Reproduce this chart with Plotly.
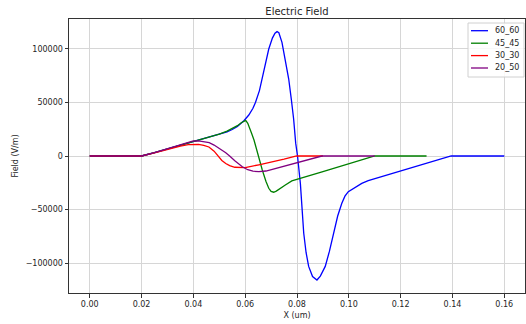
import plotly.graph_objects as go

# ---- data ----
x_60_60 = [0.0, 0.02, 0.025, 0.03, 0.035, 0.04, 0.045, 0.05, 0.053, 0.055, 0.057, 0.0595,
           0.0614, 0.063, 0.064, 0.0655, 0.0666, 0.068, 0.0691, 0.0705, 0.0715, 0.0723,
           0.073, 0.0742, 0.0755, 0.0768, 0.0778, 0.0787, 0.0795, 0.0802, 0.0813, 0.082,
           0.0826, 0.0835, 0.0845, 0.086, 0.0877, 0.089, 0.0909, 0.0925, 0.0941, 0.0957,
           0.0973, 0.0985, 0.0998, 0.1024, 0.105, 0.1075, 0.1152, 0.125, 0.1395, 0.14, 0.16]
y_60_60 = [0, 0, 3200, 6600, 10000, 13400, 16500, 19800, 22500, 24700, 27500, 32900,
           38200, 44500, 50100, 61000, 73400, 88000, 99800, 110000, 114500, 116000,
           115000, 106000, 90000, 71800, 53000, 34500, 12000, 0, -25500, -47000,
           -72100, -90000, -103000, -112500, -115700, -112000, -103000, -89000, -72100, -56000,
           -44100, -37500, -33300, -29200, -25500, -23000, -17300, -10300, 0, 0, 0]

x_45_45 = [0.0, 0.02, 0.025, 0.03, 0.035, 0.04, 0.045, 0.05, 0.053, 0.055, 0.057, 0.0585,
           0.0595, 0.0602, 0.061, 0.0614, 0.0625, 0.0634, 0.064, 0.0653, 0.0666, 0.068,
           0.0691, 0.070, 0.071, 0.072, 0.0735, 0.0755, 0.078, 0.080, 0.09, 0.11, 0.13]
y_45_45 = [0, 0, 3200, 6600, 10000, 13600, 17000, 20500, 23200, 25500, 28300, 31000,
           32800, 33200, 30500, 28300, 21000, 14900, 9600, -2800, -13000, -23500,
           -30100, -33000, -33800, -32800, -30000, -27000, -23200, -21800, -14500, 0, 0]

x_30_30 = [0.0, 0.02, 0.025, 0.03, 0.035, 0.038, 0.04, 0.042, 0.044, 0.046, 0.048, 0.0495,
           0.051, 0.0525, 0.054, 0.056, 0.058, 0.060, 0.0653, 0.070, 0.075, 0.0795, 0.080, 0.09]
y_30_30 = [0, 0, 3000, 6200, 9300, 10600, 11000, 10900, 10000, 8400, 4500, 0,
           -4200, -7000, -9000, -10500, -11000, -10800, -8200, -5800, -3000, -200, 0, 0]

x_20_50 = [0.0, 0.02, 0.025, 0.03, 0.035, 0.038, 0.04, 0.042, 0.044, 0.0461, 0.048, 0.05,
           0.0525, 0.054, 0.056, 0.0589, 0.061, 0.063, 0.0653, 0.068, 0.0717, 0.0768,
           0.080, 0.085, 0.0896, 0.11]
y_20_50 = [0, 0, 3200, 7000, 10800, 13000, 14000, 14100, 13600, 12400, 10200, 7200,
           3000, 0, -4500, -10000, -12800, -14200, -14600, -14000, -11500, -8400,
           -6000, -2700, 0, 0]

series_names = ["60_60", "45_45", "30_30", "20_50"]
series_colors = ["blue", "green", "red", "purple"]

x_ticks = [0.0, 0.02, 0.04, 0.06, 0.08, 0.10, 0.12, 0.14, 0.16]
y_ticks = [-100000, -50000, 0, 50000, 100000]
y_tick_text = ["\u2212100000", "\u221250000", "0", "50000", "100000"]

# ---- figure ----
FONT = "DejaVu Sans"
TXT = "#262626"
fig = go.Figure()
for xs, ys, name, col in zip([x_60_60, x_45_45, x_30_30, x_20_50],
                             [y_60_60, y_45_45, y_30_30, y_20_50],
                             series_names, series_colors):
    fig.add_trace(go.Scatter(x=xs, y=ys, mode="lines", name=name, showlegend=False,
                             line=dict(color=col, width=1.3)))

axis_common = dict(showline=True, linecolor="#333333", linewidth=1, mirror=True,
                   showgrid=True, gridcolor="#d6d6d6", gridwidth=1,
                   ticks="outside", ticklen=3.5, tickcolor="#333333", tickwidth=1,
                   zeroline=False, tickfont=dict(family=FONT, size=8, color=TXT))

fig.update_xaxes(range=[-0.008, 0.168], tickvals=x_ticks, tickformat=".2f",
                 title=dict(text="X (um)", font=dict(family=FONT, size=8, color=TXT), standoff=4),
                 **axis_common)
fig.update_yaxes(range=[-127800, 127800], tickvals=y_ticks, ticktext=y_tick_text,
                 title=dict(text="Field (V/m)", font=dict(family=FONT, size=8, color=TXT), standoff=5),
                 **axis_common)

# ---- legend (compact, matplotlib-like) ----
PL, PR, PT, PB = 69, 525, 19, 293
def px(xp):
    return (xp - PL) / (PR - PL)
def py(yp):
    return (PB - yp) / (PB - PT)

bx0, bx1, by0, by1 = px(468), px(524), py(77), py(23)
shapes = [dict(type="rect", xref="paper", yref="paper", x0=bx0, x1=bx1, y0=by0, y1=by1,
               line=dict(color="#d0d0d0", width=1), fillcolor="rgba(255,255,255,0.85)", layer="above")]
annotations = []
entry_y = [30.7, 43.2, 55.6, 68.0]
for name, col, ey in zip(series_names, series_colors, entry_y):
    shapes.append(dict(type="line", xref="paper", yref="paper", x0=px(471), x1=px(488),
                       y0=py(ey), y1=py(ey), line=dict(color=col, width=1.3), layer="above"))
    annotations.append(dict(xref="paper", yref="paper", x=px(493), y=py(ey), text=name,
                            showarrow=False, xanchor="left", yanchor="middle",
                            font=dict(family=FONT, size=8, color=TXT)))

fig.update_layout(
    width=526, height=324,
    margin=dict(l=PL, r=526 - PR, t=PT, b=324 - PB),
    paper_bgcolor="white", plot_bgcolor="white",
    font=dict(family=FONT, size=8, color=TXT),
    title=dict(text="Electric Field", x=0.5, xref="paper", y=1 - 11.5 / 324, yref="container",
               xanchor="center", yanchor="middle", font=dict(family=FONT, size=10, color=TXT)),
    showlegend=False,
    shapes=shapes,
    annotations=annotations,
)

fig.write_html("out.html")
